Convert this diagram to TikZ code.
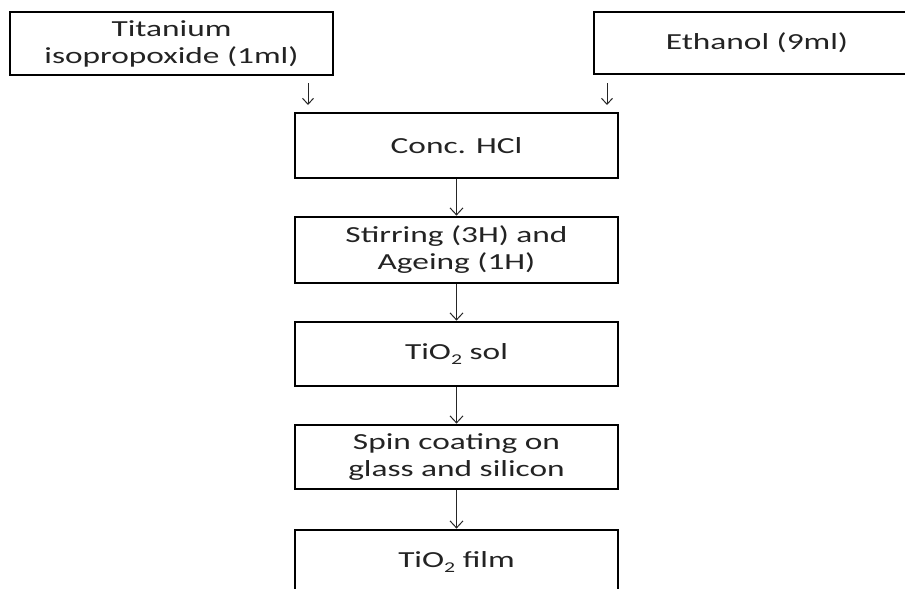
\documentclass[tikz,border=0pt]{standalone}
\usepackage{fontspec}
\setmainfont[FakeStretch=1.45]{Carlito}
\usetikzlibrary{arrows.meta}
\definecolor{txt}{RGB}{35,35,35}
\newcommand{\subtwo}{\raisebox{-0.22em}{\fontsize{15}{15}\selectfont 2}}
\begin{document}
\begin{tikzpicture}[x=1pt,y=-1pt,
  box/.style={draw=black, line width=2.8pt, inner sep=0pt, align=center,
    text=txt, font=\fontsize{23}{27}\selectfont},
  flow/.style={draw=black!85, line width=1pt, -{Straight Barb[length=7pt,width=13pt,line width=1pt]}},
  drop/.style={draw=black!85, line width=1pt, -{Straight Barb[length=6pt,width=11pt,line width=1pt]}}]
\useasboundingbox (0,0) rectangle (905,589);
\node[box, minimum width=323pt, minimum height=63pt] (ti) at (171.5,43.5) {Titanium\\isopropoxide (1ml)};
\node[box, minimum width=326pt, minimum height=62pt] (et) at (757,43) {Ethanol (9ml)};
\node[box, minimum width=323pt, minimum height=65pt] (hcl) at (456.5,145.5) {Conc. HCl};
\node[box, minimum width=323pt, minimum height=66pt] (stir) at (456.5,250) {Stirring (3H) and\\Ageing (1H)};
\node[box, minimum width=323pt, minimum height=64pt] (sol) at (456.5,354) {TiO\subtwo\ sol};
\node[box, minimum width=323pt, minimum height=64pt] (spin) at (456.5,457) {Spin coating on\\glass and silicon};
\node[box, minimum width=323pt, minimum height=64pt] (film) at (456.5,562) {TiO\subtwo\ film};
\coordinate (la) at (308,83);
\coordinate (lb) at (308,105);
\coordinate (ra) at (607,83);
\coordinate (rb) at (607,105);
\draw[drop] (la) -- (lb);
\draw[drop] (ra) -- (rb);
\draw[flow] (hcl) -- (stir);
\draw[flow] (stir) -- (sol);
\draw[flow] (sol) -- (spin);
\draw[flow] (spin) -- (film);
\end{tikzpicture}
\end{document}
